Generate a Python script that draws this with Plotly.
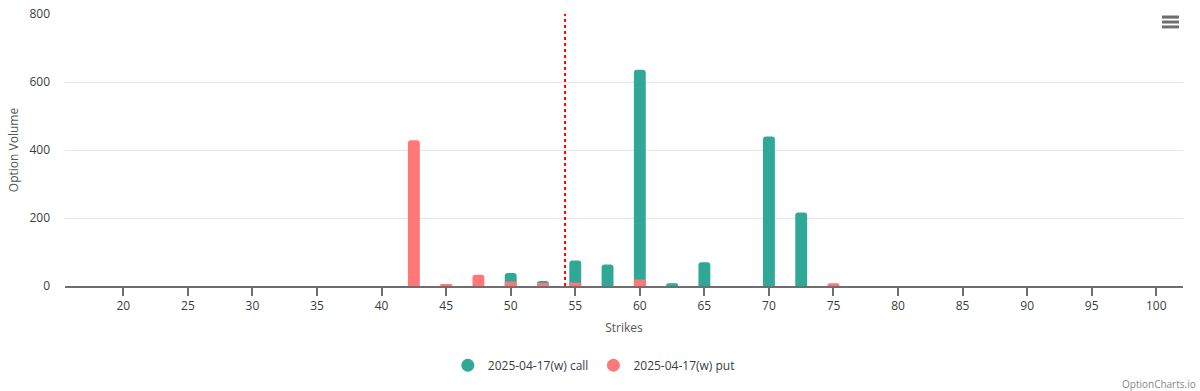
import plotly.graph_objects as go

strikes = [42.5, 45, 47.5, 50, 52.5, 55, 57.5, 60, 62.5, 65, 70, 72.5, 75]
call_volume = [0, 0, 0, 38, 15, 75, 63, 636, 8, 70, 440, 216, 0]
put_volume = [429, 5, 33, 13, 9, 10, 0, 19, 0, 0, 0, 0, 8]
spot_price = 54.21
x_ticks = [20, 25, 30, 35, 40, 45, 50, 55, 60, 65, 70, 75, 80, 85, 90, 95, 100]
y_ticks = [0, 200, 400, 600, 800]
series_names = ["2025-04-17(w) call", "2025-04-17(w) put"]

CALL = "#2fa897"
PUT = "#ff7878"
FONT = "Open Sans, Noto Sans, sans-serif"

fig = go.Figure()
fig.add_trace(go.Bar(x=strikes, y=call_volume, name=series_names[0], showlegend=False,
                     legendgroup="c", marker=dict(color=CALL, line=dict(width=0)), width=0.92))
fig.add_trace(go.Bar(x=strikes, y=put_volume, name=series_names[1], showlegend=False,
                     legendgroup="p", marker=dict(color=PUT, line=dict(width=0)), width=0.92))
# legend entries with round markers
for nm, col, grp in [(series_names[0], CALL, "c"), (series_names[1], PUT, "p")]:
    fig.add_trace(go.Scatter(x=[None], y=[None], mode="markers", name=nm, legendgroup=grp,
                             marker=dict(color=col, size=13, symbol="circle")))

fig.add_shape(type="line", x0=spot_price, x1=spot_price, y0=0, y1=800,
              xref="x", yref="y", line=dict(color="#ff0000", width=2, dash="dot"))

# menu icon
for y0, y1 in [(0.9945, 0.983), (0.976, 0.965), (0.958, 0.947)]:
    fig.add_shape(type="rect", xref="paper", yref="paper", x0=0.9812, x1=0.9964,
                  y0=y1, y1=y0, fillcolor="#6e6e6e", line=dict(width=0))

fig.add_annotation(text="OptionCharts.io", xref="paper", yref="paper",
                   x=1.013, y=-0.362, xanchor="right", yanchor="middle",
                   showarrow=False, font=dict(size=10, color="#888888", family=FONT))

fig.update_layout(
    width=1200, height=391,
    margin=dict(l=65, r=17, t=14, b=105, autoexpand=False),
    paper_bgcolor="white", plot_bgcolor="white",
    barmode="overlay", barcornerradius=3,
    font=dict(family=FONT, size=12, color="#373d3f"),
    showlegend=True,
    legend=dict(orientation="h", x=0.473, xanchor="center", y=-0.238, yanchor="top",
                font=dict(size=12, color="#373d3f")),
    xaxis=dict(range=[15.48, 102.07], tickvals=x_ticks, showgrid=False, automargin=False,
               showline=True, linecolor="#6e6e6e", linewidth=1.5,
               ticks="outside", ticklen=8, tickcolor="#6e6e6e", tickwidth=1.5,
               tickfont=dict(size=12, color="#373d3f"),
               title=dict(text="Strikes", font=dict(size=12, color="#555555"), standoff=10),
               zeroline=False),
    yaxis=dict(range=[0, 800], tickvals=y_ticks, showgrid=True, gridcolor="#e6e6e6",
               automargin=False,
               showline=False, zeroline=False, ticks="", ticklabelstandoff=14,
               tickfont=dict(size=12, color="#373d3f"),
               title=dict(text="Option Volume", font=dict(size=12, color="#555555"), standoff=8)),
)

fig.write_html("out.html", config={"displayModeBar": False},
               post_script="document.body.style.margin='0';document.body.style.overflow='hidden';")
